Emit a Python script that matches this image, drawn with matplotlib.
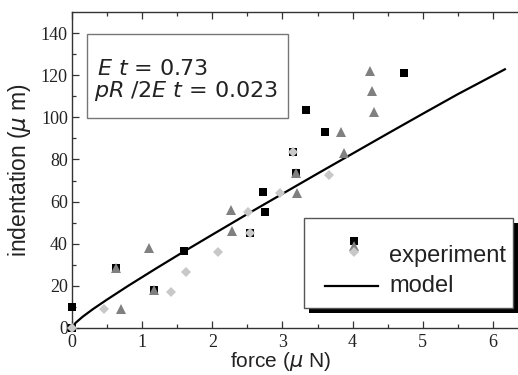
import matplotlib
matplotlib.use("Agg")
import matplotlib.pyplot as plt
from matplotlib.patches import Rectangle

# ---------------- data ----------------
sq_x = [0.0, 0.0, 0.63, 1.17, 1.60, 2.54, 2.72, 2.75, 3.15, 3.19, 3.33, 3.60, 4.73]
sq_y = [0.0, 10.0, 28.6, 17.9, 36.5, 45.0, 64.5, 55.0, 83.4, 73.6, 103.5, 92.9, 120.9]

tri_x = [0.63, 0.70, 1.10, 1.17, 2.26, 2.28, 3.19, 3.20, 3.84, 3.88, 4.245, 4.27, 4.31]
tri_y = [28.6, 9.2, 37.9, 17.9, 55.8, 46.0, 73.6, 64.2, 93.2, 82.9, 122.1, 112.3, 102.4]

dia_x = [0.0, 0.46, 1.41, 1.62, 2.08, 2.51, 2.54, 2.96, 3.15, 3.67]
dia_y = [0.0, 9.2, 17.1, 26.5, 36.0, 55.3, 45.0, 64.2, 83.4, 72.7]

model_x = [0, 0.05, 0.15, 0.3, 0.5, 0.8, 1.2, 1.6, 2.0, 2.5, 3.0, 3.5, 4.0, 4.5, 5.0, 5.5, 6.17]
model_y = [0, 2.4, 5.3, 9.0, 13.5, 20.0, 28.3, 36.4, 44.3, 54.1, 63.7, 73.3, 82.8, 92.3, 101.7, 111.0, 122.8]

x_ticks = [0, 1, 2, 3, 4, 5, 6]
y_ticks = [0, 20, 40, 60, 80, 100, 120, 140]

# ---------------- style ----------------
SANS = 'Liberation Sans'
SERIF = 'Liberation Serif'
BOXFONT = 'DejaVu Sans'
TXT = '#222222'
TRI_C = '#808080'
DIA_C = '#c8c8c8'

fig = plt.figure(figsize=(5.18, 3.75), dpi=100)
ax = fig.add_axes([72 / 518, (375 - 328) / 375, (521 - 72) / 518, (328 - 12) / 375])

ax.plot(model_x, model_y, color='black', lw=1.6, zorder=2)
ax.plot(sq_x, sq_y, 's', color='black', ms=5.6, mew=0, zorder=3, clip_on=False)
ax.plot(tri_x, tri_y, '^', color=TRI_C, ms=7.2, mew=0, zorder=4, clip_on=False)
ax.plot(dia_x, dia_y, 'D', color=DIA_C, ms=5.2, mew=0, zorder=5, clip_on=False)

ax.set_xlim(0, 6.4)
ax.set_ylim(0, 150)
ax.set_xticks(x_ticks)
ax.set_yticks(y_ticks)
ax.set_xticks([0.5 + i for i in range(6)], minor=True)
ax.set_yticks([10 + 20 * i for i in range(7)], minor=True)
ax.tick_params(which='both', direction='in', top=True, right=False, color='#333333')
ax.tick_params(which='major', length=5, width=0.9)
ax.tick_params(which='minor', length=3, width=0.9)
ax.tick_params(axis='x', pad=4)
ax.tick_params(axis='y', pad=3)
for lab in ax.get_xticklabels() + ax.get_yticklabels():
    lab.set_fontfamily(SERIF)
    lab.set_fontsize(13)
    lab.set_color(TXT)
for s in ['left', 'bottom', 'top']:
    ax.spines[s].set_color('#333333')
    ax.spines[s].set_linewidth(1.0)
ax.spines['right'].set_visible(False)

ax.set_xlabel('force ($\\mu$ N)', fontfamily=SANS, fontsize=15, color=TXT)
ax.set_ylabel('indentation ($\\mu$ m)', fontfamily=SANS, fontsize=16.5, color=TXT)
ax.xaxis.set_label_coords(0.464, -0.071)
ax.yaxis.set_label_coords(-0.087, 0.5)

# annotation box
ax.add_patch(Rectangle((0.033, 0.665), 0.448, 0.265, transform=ax.transAxes,
                       fill=True, facecolor='white', edgecolor='#777777', lw=1.0, zorder=6))
ax.text(0.055, 0.801, '$E$ $t$ = 0.73', transform=ax.transAxes, fontfamily=BOXFONT,
        fontsize=16, va='baseline', ha='left', zorder=7, color=TXT)
ax.text(0.049, 0.732, '$pR$ /2$E$ $t$ = 0.023', transform=ax.transAxes, fontfamily=BOXFONT,
        fontsize=16, va='baseline', ha='left', zorder=7, color=TXT)

# legend (manual) with shadow
lx0, ly0, lw_, lh_ = 0.517, 0.063, 0.465, 0.285
ax.add_patch(Rectangle((lx0 + 0.011, ly0 - 0.016), lw_, lh_, transform=ax.transAxes,
                       facecolor='black', edgecolor='black', lw=0, zorder=6, clip_on=False))
ax.add_patch(Rectangle((lx0, ly0), lw_, lh_, transform=ax.transAxes,
                       facecolor='white', edgecolor='#555555', lw=1.0, zorder=7, clip_on=False))
ax.plot([0.628], [0.275], 's', color='black', ms=5.6, mew=0, transform=ax.transAxes, zorder=8)
ax.plot([0.628], [0.258], '^', color=TRI_C, ms=7.2, mew=0, transform=ax.transAxes, zorder=9)
ax.plot([0.628], [0.242], 'D', color=DIA_C, ms=5.2, mew=0, transform=ax.transAxes, zorder=10)
ax.plot([0.563, 0.682], [0.133, 0.133], color='black', lw=1.6, transform=ax.transAxes, zorder=8)
ax.text(0.706, 0.228, 'experiment', transform=ax.transAxes, fontfamily=SANS, fontsize=17,
        va='center', ha='left', zorder=9, color=TXT)
ax.text(0.706, 0.133, 'model', transform=ax.transAxes, fontfamily=SANS, fontsize=17,
        va='center', ha='left', zorder=9, color=TXT)

fig.savefig('out.png', dpi=100, facecolor='white')
